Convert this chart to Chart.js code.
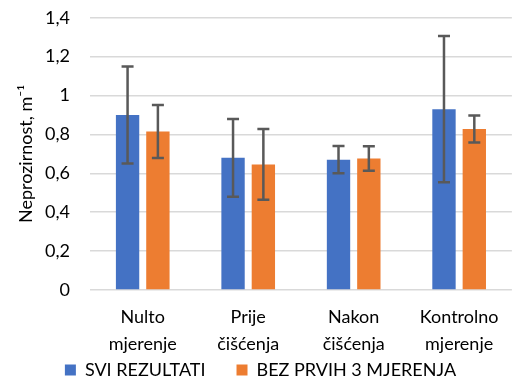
<!DOCTYPE html>
<html lang="hr">
<head>
<meta charset="UTF-8">
<title>Neprozirnost</title>
<script src="https://cdn.jsdelivr.net/npm/chart.js"></script>
<style>
  body { margin: 0; background: #fff; }
  #wrap { width: 512px; height: 383px; }
</style>
</head>
<body>
<div id="wrap"><canvas id="chart"></canvas></div>
<script>
// podaci
const kategorije = [['Nulto', 'mjerenje'], ['Prije', 'čišćenja'], ['Nakon', 'čišćenja'], ['Kontrolno', 'mjerenje']];
const sviRezultati = [0.90, 0.68, 0.67, 0.93];
const sviGreske = [0.25, 0.20, 0.07, 0.376];
const bezPrvih3 = [0.815, 0.646, 0.676, 0.828];
const bezGreske = [0.136, 0.182, 0.063, 0.069];
const yTicks = [0, 0.2, 0.4, 0.6, 0.8, 1, 1.2, 1.4];

const FONT = 'Lato, "Open Sans", sans-serif';
const greske = [sviGreske, bezGreske];

// error barovi (+/- greska oko vrha stupca)
const errorBars = {
  id: 'errorBars',
  afterLayout(chart) {
    // x os je stisnuta, pa da se drugi red oznaka ne odreze
    chart.scales.x.bottom = chart.height;
  },
  afterDatasetsDraw(chart) {
    const ctx = chart.ctx;
    const y = chart.scales.y;
    ctx.save();
    ctx.strokeStyle = '#595959';
    ctx.lineWidth = 2.5;
    chart.data.datasets.forEach((ds, di) => {
      chart.getDatasetMeta(di).data.forEach((bar, i) => {
        const v = ds.data[i], e = greske[di][i];
        const yHi = y.getPixelForValue(v + e), yLo = y.getPixelForValue(v - e);
        ctx.beginPath();
        ctx.moveTo(bar.x, yHi); ctx.lineTo(bar.x, yLo);
        ctx.moveTo(bar.x - 6, yHi); ctx.lineTo(bar.x + 6, yHi);
        ctx.moveTo(bar.x - 6, yLo); ctx.lineTo(bar.x + 6, yLo);
        ctx.stroke();
      });
    });
    ctx.restore();
  }
};

new Chart(document.getElementById('chart'), {
  type: 'bar',
  data: {
    labels: kategorije,
    datasets: [
      { label: 'SVI REZULTATI', data: sviRezultati, backgroundColor: '#4472C4' },
      { label: 'BEZ PRVIH 3 MJERENJA', data: bezPrvih3, backgroundColor: '#ED7D31' }
    ]
  },
  options: {
    responsive: true,
    maintainAspectRatio: false,
    animation: false,
    categoryPercentage: 0.575,
    barPercentage: 0.77,
    layout: { padding: { top: 0, right: 0, left: 9, bottom: -6 } },
    plugins: {
      tooltip: { enabled: false },
      legend: {
        position: 'bottom',
        labels: { color: '#000', font: { family: FONT, size: 18 }, boxWidth: 11, boxHeight: 11, padding: 31 }
      }
    },
    scales: {
      x: {
        afterFit: (s) => { s.height = 40; },
        grid: { display: false, drawTicks: false },
        border: { display: false },
        ticks: { color: '#000', font: { family: FONT, size: 18, lineHeight: 1.5 }, padding: 13.5, maxRotation: 0 }
      },
      y: {
        min: 0,
        max: 1.4,
        afterBuildTicks: (s) => { s.ticks = yTicks.map(v => ({ value: v })); },
        afterFit: (s) => { s.width = 81; },
        grid: { color: '#d9d9d9', lineWidth: 1.5, tickLength: 13, tickColor: 'rgba(0,0,0,0)' },
        border: { display: false },
        ticks: {
          color: '#000',
          font: { family: FONT, size: 18 },
          padding: 7,
          callback: (v) => String(v).replace('.', ',')
        },
        title: {
          display: true,
          text: 'Neprozirnost, m⁻¹',
          color: '#000',
          font: { family: FONT, size: 18 },
          padding: { top: 6, bottom: 4 }
        }
      }
    }
  },
  plugins: [errorBars]
});
</script>
</body>
</html>
